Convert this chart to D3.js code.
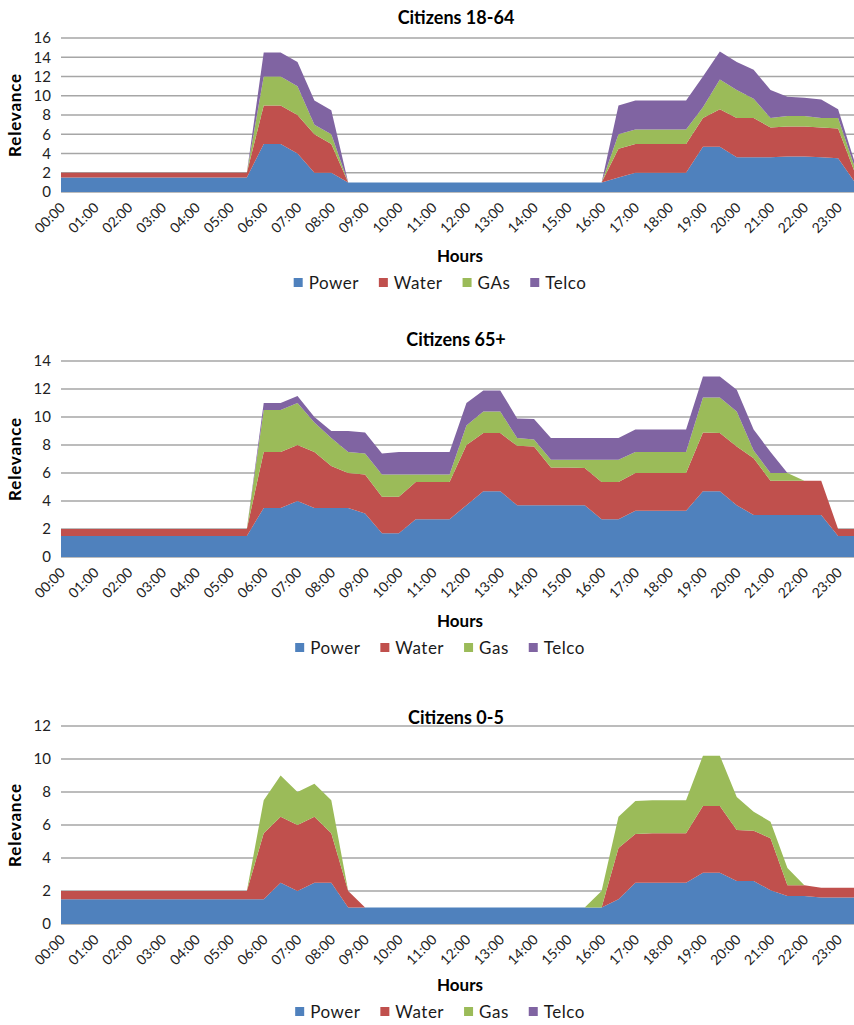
<!DOCTYPE html>
<html>
<head>
<meta charset="utf-8">
<script src="https://cdn.jsdelivr.net/npm/d3@7/dist/d3.min.js"></script>
<style>
  body { margin: 0; background: #fff; }
  text { font-family: Lato, "Open Sans", sans-serif; }
</style>
</head>
<body>
<div id="chart"></div>
<script>
//categories: one point every half hour
var slots = ["00:00","00:30","01:00","01:30","02:00","02:30","03:00","03:30","04:00","04:30","05:00","05:30",
             "06:00","06:30","07:00","07:30","08:00","08:30","09:00","09:30","10:00","10:30","11:00","11:30",
             "12:00","12:30","13:00","13:30","14:00","14:30","15:00","15:30","16:00","16:30","17:00","17:30",
             "18:00","18:30","19:00","19:30","20:00","20:30","21:00","21:30","22:00","22:30","23:00","23:30"];
//tick labels: one per hour
var hourTicks = ["00:00","01:00","02:00","03:00","04:00","05:00","06:00","07:00","08:00","09:00","10:00","11:00",
                 "12:00","13:00","14:00","15:00","16:00","17:00","18:00","19:00","20:00","21:00","22:00","23:00"];

var seriesColors = ["#4f81bd", "#c0504d", "#9bbb59", "#8064a2"];
var legend1864 = ["Power", "Water", "GAs", "Telco"];
var legendOther = ["Power", "Water", "Gas", "Telco"];

//Citizens 18-64
var power1864 = [1.5,1.5,1.5,1.5,1.5,1.5,1.5,1.5,1.5,1.5,1.5,1.5, 5,5,4,2,2, 1,1,1,1,1,1,1,1,1,1,1,1,1,1,1,1,
                 1.5,2,2,2,2,4.7,4.7,3.6,3.6,3.6,3.7,3.7,3.6,3.5,1];
var water1864 = [0.5,0.5,0.5,0.5,0.5,0.5,0.5,0.5,0.5,0.5,0.5,0.5, 4,4,4,4,3, 0,0,0,0,0,0,0,0,0,0,0,0,0,0,0,0,
                 3,3,3,3,3,3,3.9,4.1,4.1,3.1,3.1,3.1,3.1,3.1,1];
var gas1864   = [0,0,0,0,0,0,0,0,0,0,0,0, 3,3,3,1,1, 0,0,0,0,0,0,0,0,0,0,0,0,0,0,0,0,
                 1.5,1.5,1.5,1.5,1.5,1.1,3.1,2.9,2,1,1.1,1.1,1,1.1,0.5];
var telco1864 = [0,0,0,0,0,0,0,0,0,0,0,0, 2.5,2.5,2.5,2.5,2.5, 0,0,0,0,0,0,0,0,0,0,0,0,0,0,0,0,
                 3,3,3,3,3,3.2,2.9,2.9,3,2.9,2,1.9,1.9,0.9,0.5];

//Citizens 65+
var power65 = [1.5,1.5,1.5,1.5,1.5,1.5,1.5,1.5,1.5,1.5,1.5,1.5,
               3.5,3.5,4,3.5,3.5,3.5,3.1,1.7,1.7,2.7,2.7,2.7,3.7,4.7,4.7,3.7,3.7,3.7,3.7,3.7,
               2.7,2.7,3.3,3.3,3.3,3.3,4.7,4.7,3.7,3,3,3,3,3,1.5,1.5];
var water65 = [0.5,0.5,0.5,0.5,0.5,0.5,0.5,0.5,0.5,0.5,0.5,0.5,
               4,4,4,4,3,2.5,2.8,2.6,2.6,2.65,2.65,2.65,4.3,4.15,4.15,4.25,4.2,2.7,2.7,2.65,
               2.65,2.65,2.7,2.7,2.7,2.7,4.2,4.15,4.2,4.05,2.45,2.45,2.45,2.45,0.5,0.5];
var gas65   = [0,0,0,0,0,0,0,0,0,0,0,0,
               3,3,3,2.1,2,1.5,1.5,1.6,1.6,0.55,0.55,0.55,1.4,1.55,1.55,0.55,0.5,0.55,0.55,0.6,
               1.6,1.6,1.5,1.5,1.5,1.5,2.5,2.55,2.5,0.55,0.55,0.55,0,0,0,0];
var telco65 = [0,0,0,0,0,0,0,0,0,0,0,0,
               0.5,0.5,0.5,0.4,0.5,1.5,1.5,1.5,1.6,1.6,1.6,1.6,1.6,1.5,1.5,1.4,1.45,1.55,1.55,1.55,
               1.55,1.55,1.6,1.6,1.6,1.6,1.5,1.5,1.55,1.5,1.5,0,0,0,0,0];

//Citizens 0-5
var power05 = [1.5,1.5,1.5,1.5,1.5,1.5,1.5,1.5,1.5,1.5,1.5,1.5, 1.5,2.5,2,2.5,2.5,1,
               1,1,1,1,1,1,1,1,1,1,1,1,1,1,1,
               1.5,2.5,2.5,2.5,2.5,3.1,3.1,2.6,2.6,2.05,1.7,1.7,1.6,1.6,1.6];
var water05 = [0.5,0.5,0.5,0.5,0.5,0.5,0.5,0.5,0.5,0.5,0.5,0.5, 4,4,4,4,3,1,
               0,0,0,0,0,0,0,0,0,0,0,0,0,0,0,
               3.1,2.95,3,3,3,4.05,4.05,3.1,3.05,3.15,0.65,0.65,0.6,0.6,0.6];
var gas05   = [0,0,0,0,0,0,0,0,0,0,0,0, 2,2.5,2,2,2,0,
               0,0,0,0,0,0,0,0,0,0,0,0,0,0,1,
               1.9,2,2,2,2,3.05,3.05,2,1.15,1,1.05,0,0,0,0];
var telco05 = [0,0,0,0,0,0,0,0,0,0,0,0, 0,0,0,0,0,0,
               0,0,0,0,0,0,0,0,0,0,0,0,0,0,0,
               0,0,0,0,0,0,0,0,0,0,0,0,0,0,0];

var svg = d3.select("#chart").append("svg")
    .attr("width", 854)
    .attr("height", 1025);

var plotLeft = 61, plotRight = 855;

function drawChart(c) {
  var g = svg.append("g");
  var keys = ["power", "water", "gas", "telco"];

  var rows = slots.map(function(s, i) {
    return { slot: s, power: c.series[0][i], water: c.series[1][i], gas: c.series[2][i], telco: c.series[3][i] };
  });

  var x = d3.scalePoint().domain(slots).range([plotLeft, plotRight]);
  var y = d3.scaleLinear().domain([0, c.yMax]).range([c.bottom, c.top]);
  var yTicks = d3.range(0, c.yMax + 1, 2);

  //gridlines
  g.selectAll(".grid").data(yTicks).enter().append("line")
    .attr("x1", plotLeft).attr("x2", plotRight)
    .attr("y1", function(d) { return y(d); })
    .attr("y2", function(d) { return y(d); })
    .attr("stroke", "#a6a6a6")
    .attr("stroke-width", 1.6);

  //stacked areas
  var stacked = d3.stack().keys(keys)(rows);
  var area = d3.area()
    .x(function(d) { return x(d.data.slot); })
    .y0(function(d) { return y(d[0]); })
    .y1(function(d) { return y(d[1]); });

  g.selectAll(".layer").data(stacked).enter().append("path")
    .attr("d", area)
    .attr("fill", function(d, i) { return seriesColors[i]; });

  //y axis
  var yAxis = g.append("g")
    .attr("transform", "translate(" + plotLeft + ",0)")
    .call(d3.axisLeft(y).tickValues(yTicks).tickSize(0).tickPadding(10));
  yAxis.select(".domain").remove();
  yAxis.selectAll("text")
    .style("font-size", "15px")
    .style("font-family", "Lato, sans-serif")
    .attr("fill", "#222");

  //x axis, labels at 45 degrees
  var xAxis = g.append("g")
    .attr("transform", "translate(0," + c.bottom + ")")
    .call(d3.axisBottom(x).tickValues(hourTicks).tickSize(0));
  xAxis.select(".domain").remove();
  xAxis.selectAll("text")
    .attr("y", 0)
    .attr("dy", "0.35em")
    .attr("transform", "translate(1,13) rotate(-45)")
    .style("text-anchor", "end")
    .style("font-size", "14px")
    .style("font-family", "Lato, sans-serif")
    .attr("fill", "#222");

  //titles
  g.append("text")
    .attr("x", 456).attr("y", c.titleY)
    .attr("text-anchor", "middle")
    .style("font-size", "18px").style("font-weight", "bold")
    .text(c.title);

  g.append("text")
    .attr("x", 460).attr("y", c.hoursY)
    .attr("text-anchor", "middle")
    .style("font-size", "17px").style("font-weight", "bold")
    .text("Hours");

  g.append("text")
    .attr("transform", "translate(21," + ((c.top + c.bottom) / 2) + ") rotate(-90)")
    .attr("text-anchor", "middle")
    .style("font-size", "17px").style("font-weight", "bold")
    .style("letter-spacing", "0.8px")
    .text("Relevance");

  //legend
  var leg = g.append("g");
  var cursor = 0;
  c.legend.forEach(function(name, i) {
    var item = leg.append("g").attr("transform", "translate(" + cursor + ",0)");
    item.append("rect")
      .attr("x", 0).attr("y", -5)
      .attr("width", 9).attr("height", 9)
      .attr("fill", seriesColors[i]);
    var t = item.append("text")
      .attr("x", 15).attr("y", 0)
      .attr("dy", "0.35em")
      .style("font-size", "17px")
      .style("letter-spacing", "0.5px")
      .attr("fill", "#1a1a1a")
      .text(name);
    cursor += 15 + t.node().getComputedTextLength() + 20;
  });
  var legWidth = cursor - 20;
  leg.attr("transform", "translate(" + (440 - legWidth / 2) + "," + c.legendY + ")");
}

drawChart({
  title: "Citizens 18-64", series: [power1864, water1864, gas1864, telco1864], legend: legend1864,
  yMax: 16, top: 38, bottom: 192, titleY: 24, hoursY: 262, legendY: 283
});
drawChart({
  title: "Citizens 65+", series: [power65, water65, gas65, telco65], legend: legendOther,
  yMax: 14, top: 361, bottom: 557, titleY: 346, hoursY: 627, legendY: 648
});
drawChart({
  title: "Citizens 0-5", series: [power05, water05, gas05, telco05], legend: legendOther,
  yMax: 12, top: 726, bottom: 924, titleY: 724, hoursY: 991, legendY: 1012
});
</script>
</body>
</html>
